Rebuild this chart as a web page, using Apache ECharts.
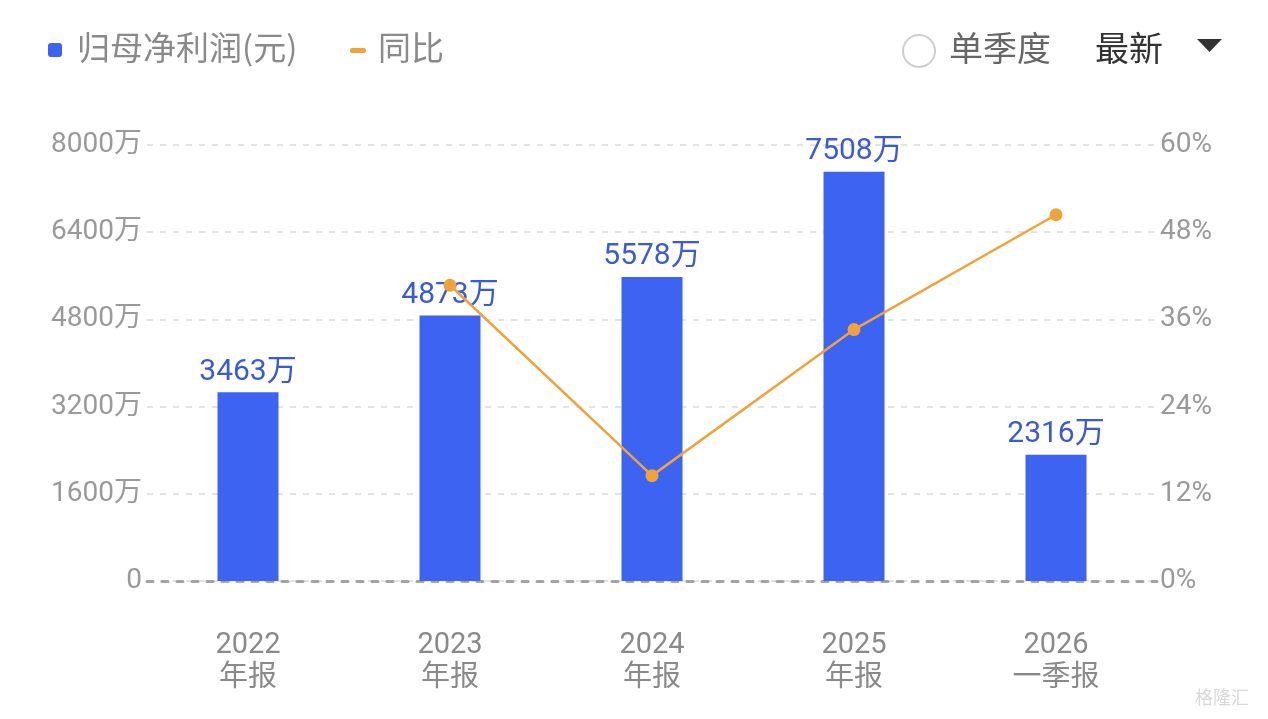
<!DOCTYPE html>
<html><head><meta charset="utf-8">
<script src="https://cdn.jsdelivr.net/npm/echarts@6/dist/echarts.min.js"></script>
<style>html,body{margin:0;padding:0;background:#fff}#c{width:1268px;height:719px}</style>
</head><body><div id="c"></div>
<script>
const categories = ['2022\n年报','2023\n年报','2024\n年报','2025\n年报','2026\n一季报'];
const profit = [3463, 4873, 5578, 7508, 2316];
const yoy = ['-', 40.7, 14.5, 34.6, 50.4];
const leftTicks = {min:0, max:8000, interval:1600};
const rightTicks = {min:0, max:60, interval:12};

const FONT = 'Roboto,"Noto Sans CJK SC","Noto Sans",sans-serif';
const CJK = '"Noto Sans CJK SC","Noto Sans",sans-serif';
const chart = echarts.init(document.getElementById('c'));
chart.setOption({
  animation:false,
  textStyle:{fontFamily:FONT},
  grid:{left:147, right:111, top:145, bottom:138},
  xAxis:{type:'category', data:categories,
    axisLine:{show:true, lineStyle:{color:'#a3a3a3', width:3, type:[6,9]}},
    axisTick:{show:false},
    axisLabel:{color:'#8a8a8a', fontSize:29, lineHeight:33, margin:48, fontFamily:FONT}},
  yAxis:[
    {type:'value', min:leftTicks.min, max:leftTicks.max, interval:leftTicks.interval,
     axisLabel:{color:'#9a9a9a', fontSize:28, margin:5, fontFamily:FONT,
       formatter:v=> v===0?'0':v+'万'},
     axisLine:{show:false}, axisTick:{show:false},
     splitLine:{lineStyle:{color:'#e3e3e3', width:2, type:[6,7]}}},
    {type:'value', min:rightTicks.min, max:rightTicks.max, interval:rightTicks.interval,
     axisLabel:{color:'#9a9a9a', fontSize:28, margin:3, fontFamily:FONT, formatter:'{value}%'},
     axisLine:{show:false}, axisTick:{show:false}, splitLine:{show:false}}
  ],
  series:[
    {type:'bar', data:profit, barWidth:61, itemStyle:{color:'#3d63f2'},
     label:{show:true, position:'top', distance:5, color:'#3b5bd6', fontSize:30, fontFamily:FONT,
       formatter:p=>p.value+'万'}},
    {type:'line', yAxisIndex:1, data:yoy, symbol:'circle', symbolSize:13,
     lineStyle:{color:'#f0a33b', width:2.5}, itemStyle:{color:'#f0a33b'}, z:5}
  ],
  graphic:[
    {type:'rect', left:48, top:43, shape:{width:14, height:14, r:3}, style:{fill:'#3d63f2'}},
    {type:'text', left:77, top:31, style:{text:'归母净利润(元)', fill:'#8a8a8a', font:'33px '+CJK}},
    {type:'rect', left:350, top:48, shape:{width:16, height:5, r:2}, style:{fill:'#f0a33b'}},
    {type:'text', left:378, top:31, style:{text:'同比', fill:'#8a8a8a', font:'33px '+CJK}},
    {type:'circle', shape:{cx:919, cy:51, r:16}, style:{fill:'#fff', stroke:'#cfcfcf', lineWidth:2}},
    {type:'text', left:949, top:31, style:{text:'单季度', fill:'#666', font:'34px '+CJK}},
    {type:'text', left:1095, top:31, style:{text:'最新', fill:'#333', font:'34px '+CJK}},
    {type:'polygon', shape:{points:[[1197,39],[1222,39],[1209.5,52]]}, style:{fill:'#333'}},
    {type:'text', left:1195, top:688, style:{text:'格隆汇', fill:'#d8d8d8', font:'18px '+CJK}}
  ]
});
</script></body></html>
